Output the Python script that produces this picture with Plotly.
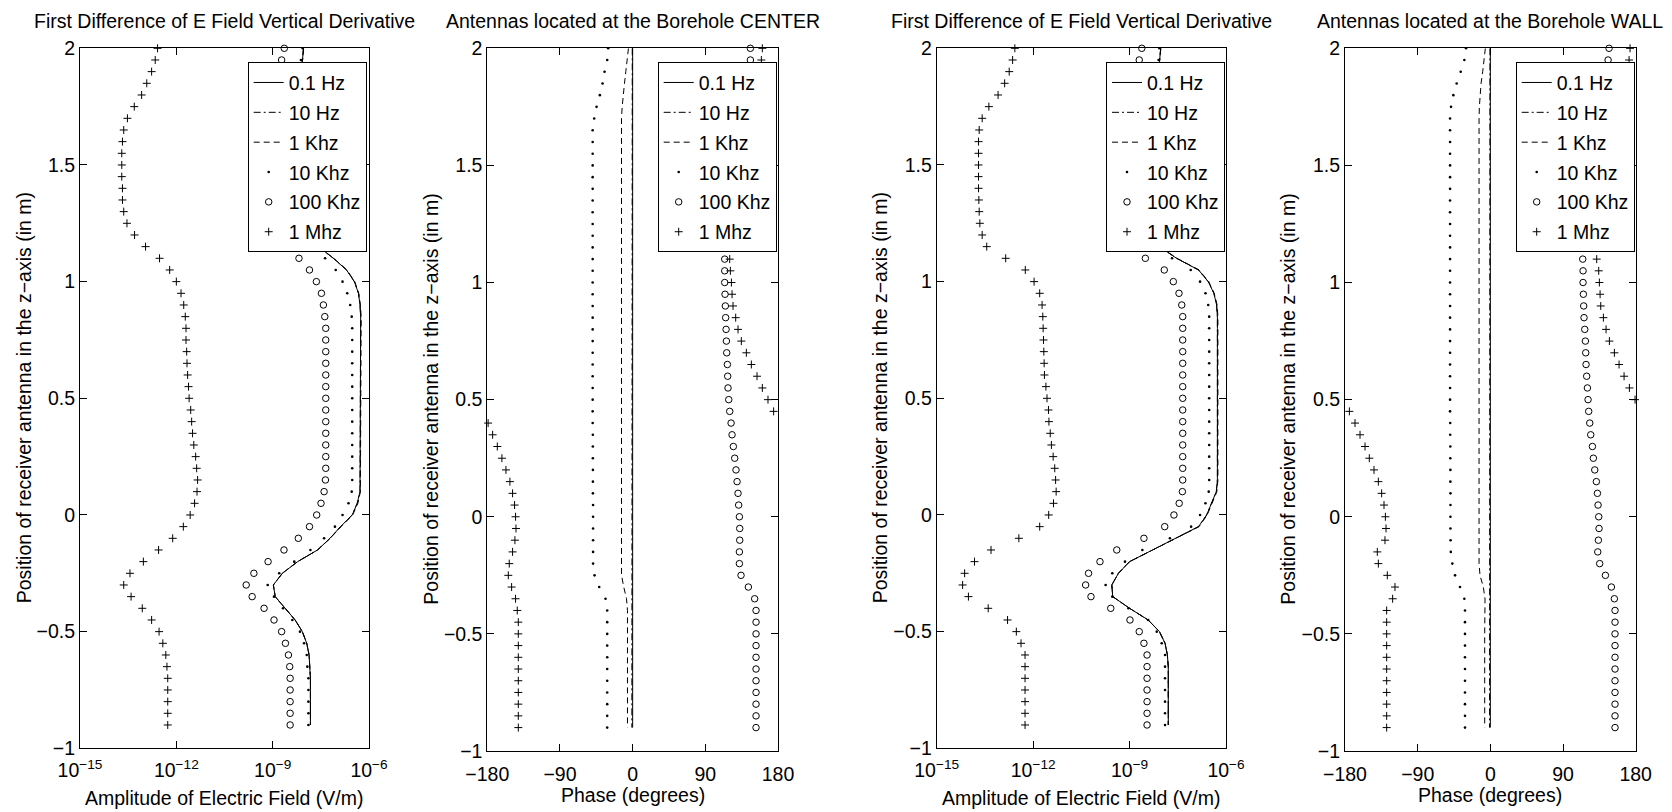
import plotly.graph_objects as go

# ---------------- data ----------------
z = [2.0, 1.95, 1.9, 1.85, 1.8, 1.75, 1.7, 1.65, 1.6, 1.55, 1.5, 1.45, 1.4, 1.35, 1.3,
     1.25, 1.2, 1.15, 1.1, 1.05, 1.0, 0.95, 0.9, 0.85, 0.8, 0.75, 0.7, 0.65, 0.6, 0.55,
     0.5, 0.45, 0.4, 0.35, 0.3, 0.25, 0.2, 0.15, 0.1, 0.05, 0.0, -0.05, -0.1, -0.15,
     -0.2, -0.25, -0.3, -0.35, -0.4, -0.45, -0.5, -0.55, -0.6, -0.65, -0.7, -0.75,
     -0.8, -0.85, -0.9]

freq_labels = ["0.1 Hz", "10 Hz", "1 Khz", "10 Khz", "100 Khz", "1 Mhz"]

# Panel 1: amplitude, antennas at borehole CENTER (V/m)
amp_c_01hz = [9.1e-9, 8.5e-9, 7e-9, 5.5e-9, 4.5e-9, 4e-9, 3.6e-9, 3.4e-9, 3.3e-9, 3.3e-9,
              3.3e-9, 3.3e-9, 3.3e-9, 3.5e-9, 4e-9, 5.5e-9, 1.0e-8, 2.65e-8, 7.8e-8, 2.0e-7,
              3.5e-7, 4.7e-7, 5.25e-7, 5.5e-7, 5.5e-7, 5.5e-7, 5.5e-7, 5.5e-7, 5.5e-7, 5.5e-7,
              5.5e-7, 5.5e-7, 5.5e-7, 5.5e-7, 5.5e-7, 5.5e-7, 5.5e-7, 5.5e-7, 5.25e-7, 4.3e-7,
              3.0e-7, 1.3e-7, 6.1e-8, 2.5e-8, 6.0e-9, 2.0e-9, 1.05e-9, 1.2e-9, 2.4e-9, 5.0e-9,
              8.4e-9, 1.15e-8, 1.36e-8, 1.46e-8, 1.5e-8, 1.5e-8, 1.5e-8, 1.5e-8, 1.5e-8]
amp_c_10hz = [9.1e-9, 8.5e-9, 7e-9, 5.5e-9, 4.5e-9, 4e-9, 3.6e-9, 3.4e-9, 3.3e-9, 3.3e-9,
              3.3e-9, 3.3e-9, 3.3e-9, 3.5e-9, 4e-9, 5.5e-9, 1.0e-8, 2.65e-8, 7.8e-8, 2.0e-7,
              3.5e-7, 4.7e-7, 5.25e-7, 5.5e-7, 5.5e-7, 5.5e-7, 5.5e-7, 5.5e-7, 5.5e-7, 5.5e-7,
              5.5e-7, 5.5e-7, 5.5e-7, 5.5e-7, 5.5e-7, 5.5e-7, 5.5e-7, 5.5e-7, 5.25e-7, 4.3e-7,
              3.0e-7, 1.3e-7, 6.1e-8, 2.5e-8, 6.0e-9, 2.0e-9, 1.05e-9, 1.2e-9, 2.4e-9, 5.0e-9,
              8.4e-9, 1.15e-8, 1.36e-8, 1.46e-8, 1.5e-8, 1.5e-8, 1.5e-8, 1.5e-8, 1.5e-8]
amp_c_1k = [9.2e-9, 8.6e-9, 7e-9, 5.5e-9, 4.5e-9, 4e-9, 3.6e-9, 3.4e-9, 3.3e-9, 3.3e-9,
            3.3e-9, 3.3e-9, 3.3e-9, 3.5e-9, 4e-9, 5.5e-9, 1.0e-8, 2.7e-8, 8.0e-8, 2.05e-7,
            3.6e-7, 4.8e-7, 5.4e-7, 5.7e-7, 5.7e-7, 5.7e-7, 5.7e-7, 5.7e-7, 5.7e-7, 5.7e-7,
            5.7e-7, 5.7e-7, 5.7e-7, 5.7e-7, 5.7e-7, 5.7e-7, 5.7e-7, 5.7e-7, 5.4e-7, 4.5e-7,
            3.1e-7, 1.35e-7, 6.2e-8, 2.5e-8, 6.0e-9, 2.0e-9, 1.05e-9, 1.2e-9, 2.4e-9, 5.0e-9,
            8.4e-9, 1.15e-8, 1.36e-8, 1.46e-8, 1.5e-8, 1.5e-8, 1.5e-8, 1.5e-8, 1.5e-8]
amp_c_10k = [8.6e-9, 7.6e-9, 6.5e-9, 5e-9, 4e-9, 3.4e-9, 3e-9, 2.8e-9, 2.7e-9, 2.7e-9,
             2.7e-9, 2.7e-9, 2.7e-9, 2.9e-9, 3.3e-9, 4.5e-9, 8e-9, 1.8e-8, 4.3e-8, 9.2e-8,
             1.5e-7, 2.1e-7, 2.6e-7, 2.9e-7, 3.0e-7, 3.0e-7, 3.0e-7, 3.0e-7, 3.0e-7, 3.0e-7,
             3.0e-7, 3.0e-7, 3.0e-7, 3.0e-7, 3.0e-7, 3.0e-7, 3.0e-7, 3.0e-7, 2.9e-7, 2.3e-7,
             1.5e-7, 8.7e-8, 4.0e-8, 1.5e-8, 4.7e-9, 1.6e-9, 7.0e-10, 1.1e-9, 2.1e-9, 4.1e-9,
             7.1e-9, 9.5e-9, 1.15e-8, 1.2e-8, 1.3e-8, 1.3e-8, 1.3e-8, 1.3e-8, 1.3e-8]
amp_c_100k = [2.3e-9, 1.9e-9, 1.7e-9, 1.4e-9, 1.1e-9, 9e-10, 8e-10, 7.5e-10, 7e-10, 7e-10,
              7e-10, 7e-10, 7.5e-10, 8e-10, 1e-9, 1.3e-9, 1.8e-9, 2.6e-9, 6.6e-9, 1.4e-8,
              2.3e-8, 3.3e-8, 3.8e-8, 4.2e-8, 4.5e-8, 4.5e-8, 4.5e-8, 4.5e-8, 4.5e-8, 4.5e-8,
              4.5e-8, 4.5e-8, 4.5e-8, 4.5e-8, 4.5e-8, 4.5e-8, 4.5e-8, 4.4e-8, 4.0e-8, 3.2e-8,
              2.35e-8, 1.4e-8, 6.3e-9, 2.25e-9, 7.2e-10, 2.6e-10, 1.5e-10, 2.3e-10, 5.4e-10, 1.1e-9,
              1.9e-9, 2.5e-9, 3.1e-9, 3.4e-9, 3.5e-9, 3.5e-9, 3.5e-9, 3.5e-9, 3.5e-9]
amp_c_1m = [2.6e-13, 2.2e-13, 1.7e-13, 1.2e-13, 8.3e-14, 4.9e-14, 3.0e-14, 2.3e-14, 2.1e-14, 2.0e-14,
            2.0e-14, 2.0e-14, 2.1e-14, 2.1e-14, 2.3e-14, 2.9e-14, 5.0e-14, 1.1e-13, 3.0e-13, 6.2e-13,
            1.0e-12, 1.4e-12, 1.7e-12, 1.9e-12, 2.0e-12, 2.0e-12, 2.1e-12, 2.15e-12, 2.25e-12, 2.4e-12,
            2.5e-12, 2.8e-12, 3.0e-12, 3.2e-12, 3.5e-12, 4.0e-12, 4.3e-12, 4.6e-12, 4.4e-12, 3.7e-12,
            2.7e-12, 1.65e-12, 7.7e-13, 2.8e-13, 9.4e-14, 3.6e-14, 2.3e-14, 3.9e-14, 8.7e-14, 1.7e-13,
            2.9e-13, 3.8e-13, 4.7e-13, 5.1e-13, 5.4e-13, 5.4e-13, 5.4e-13, 5.4e-13, 5.4e-13]

# Panel 2: phase, antennas at borehole CENTER (degrees)
ph_c_01hz = [0.0, 0.0, 0.0, 0.0, 0.0, 0.0, 0.0, 0.0, 0.0, 0.0, 0.0, 0.0, 0.0, 0.0, 0.0,
             0.0, 0.0, 0.0, 0.0, 0.0, 0.0, 0.0, 0.0, 0.0, 0.0, 0.0, 0.0, 0.0, 0.0, 0.0,
             0.0, 0.0, 0.0, 0.0, 0.0, 0.0, 0.0, 0.0, 0.0, 0.0, 0.0, 0.0, 0.0, 0.0, 0.0,
             0.0, 0.0, 0.0, 0.0, 0.0, 0.0, 0.0, 0.0, 0.0, 0.0, 0.0, 0.0, 0.0, 0.0]
ph_c_10hz = [-0.5, -0.5, -0.5, -0.5, -0.5, -0.5, -0.5, -0.5, -0.5, -0.5, -0.5, -0.5, -0.5, -0.5, -0.5,
             -0.5, -0.5, -0.5, -0.5, -0.5, -0.5, -0.5, -0.5, -0.5, -0.5, -0.5, -0.5, -0.5, -0.5, -0.5,
             -0.5, -0.5, -0.5, -0.5, -0.5, -0.5, -0.5, -0.5, -0.5, -0.5, -0.5, -0.5, -0.5, -0.5, -0.5,
             -0.5, -0.6, -0.8, -1.0, -1.0, -1.0, -1.0, -1.0, -1.0, -1.0, -1.0, -1.0, -1.0, -1.0]
ph_c_1k = [-5.2, -6.4, -8.5, -10.1, -11.8, -13.0, -13.8, -13.8, -13.8, -13.8, -13.8, -13.8, -13.8,
           -13.8, -13.8, -13.8, -13.8, -13.8, -13.8, -13.8, -13.8, -13.8, -13.8, -13.8, -13.8, -13.8,
           -13.8, -13.8, -13.8, -13.8, -13.8, -13.8, -13.8, -13.8, -13.8, -13.8, -13.8, -13.8, -13.8,
           -13.8, -13.8, -13.8, -13.8, -13.8, -13.8, -13.8, -11.0, -7.6, -6.4, -6.4, -6.4, -6.4,
           -6.4, -6.4, -6.4, -6.4, -6.4, -6.4, -6.4]
ph_c_10k = [-30.3, -31.5, -34.8, -37.3, -40.6, -44.7, -47.6, -49.5, -49.5, -49.5, -49.5, -49.5,
            -49.5, -49.5, -49.5, -49.5, -49.5, -49.5, -49.5, -49.5, -49.5, -49.5, -49.5, -49.5,
            -49.5, -49.5, -49.5, -49.5, -49.5, -49.5, -49.5, -49.5, -49.5, -49.3, -49.3, -49.3,
            -49.2, -49.2, -49.2, -49.0, -49.0, -49.0, -49.0, -49.0, -49.0, -47.2, -41.4, -33.6,
            -31.5, -31.5, -31.5, -31.5, -31.5, -31.5, -31.5, -31.5, -31.5, -31.5, -31.5]
ph_c_100k = [145.8, 145.8, 140.0, 134.0, 129.0, 125.0, 121.0, 118.0, 116.0, 115.0, 114.0, 113.8,
             113.8, 113.8, 113.8, 113.8, 113.8, 114.0, 114.0, 114.0, 114.0, 114.4, 114.8, 115.2,
             115.7, 116.1, 116.5, 117.3, 117.7, 118.1, 119.0, 120.2, 121.9, 123.1, 124.7, 126.4,
             128.0, 129.3, 130.5, 131.3, 132.2, 132.6, 132.6, 132.2, 132.2, 134.2, 143.3, 151.1,
             152.8, 152.8, 152.8, 152.8, 152.8, 152.8, 152.8, 152.8, 152.8, 152.8, 152.8]
ph_c_1m = [160.6, 159.4, 156.0, 150.0, 144.0, 138.0, 133.0, 129.0, 126.0, 124.0, 122.0, 121.0,
           120.0, 119.5, 119.0, 118.5, 118.2, 118.1, 120.2, 121.0, 122.3, 123.1, 124.3, 127.6,
           130.5, 134.6, 140.8, 147.0, 154.0, 160.6, 167.6, 174.6, -179.0, -173.4, -167.6, -161.9,
           -156.9, -152.0, -148.7, -146.2, -145.0, -144.5, -145.8, -148.7, -152.8, -154.0, -149.9,
           -145.0, -142.9, -141.6, -141.6, -141.6, -141.6, -141.6, -141.6, -141.6, -141.6, -141.6,
           -141.6]

# Panel 3: amplitude, antennas at borehole WALL (V/m)
amp_w_01hz = [9.3e-9, 8.8e-9, 8e-9, 7e-9, 6e-9, 5.5e-9, 5e-9, 5e-9, 5e-9, 5e-9,
              5e-9, 5e-9, 5e-9, 5e-9, 5.5e-9, 6e-9, 7e-9, 8.5e-9, 2.9e-8, 1.4e-7,
              2.8e-7, 4.2e-7, 5.1e-7, 5.4e-7, 5.4e-7, 5.4e-7, 5.4e-7, 5.4e-7, 5.4e-7, 5.4e-7,
              5.4e-7, 5.4e-7, 5.4e-7, 5.4e-7, 5.4e-7, 5.4e-7, 5.4e-7, 5.4e-7, 5.0e-7, 3.6e-7,
              2.5e-7, 1.4e-7, 2.6e-8, 4.9e-9, 1.0e-9, 4.5e-10, 2.8e-10, 3.0e-10, 1.0e-9, 3.8e-9,
              8.5e-9, 1.27e-8, 1.5e-8, 1.6e-8, 1.6e-8, 1.6e-8, 1.6e-8, 1.6e-8, 1.6e-8]
amp_w_10hz = [9.3e-9, 8.8e-9, 8e-9, 7e-9, 6e-9, 5.5e-9, 5e-9, 5e-9, 5e-9, 5e-9,
              5e-9, 5e-9, 5e-9, 5e-9, 5.5e-9, 6e-9, 7e-9, 8.5e-9, 2.9e-8, 1.4e-7,
              2.8e-7, 4.2e-7, 5.1e-7, 5.4e-7, 5.4e-7, 5.4e-7, 5.4e-7, 5.4e-7, 5.4e-7, 5.4e-7,
              5.4e-7, 5.4e-7, 5.4e-7, 5.4e-7, 5.4e-7, 5.4e-7, 5.4e-7, 5.4e-7, 5.0e-7, 3.6e-7,
              2.5e-7, 1.4e-7, 2.6e-8, 4.9e-9, 1.0e-9, 4.5e-10, 2.8e-10, 3.0e-10, 1.0e-9, 3.8e-9,
              8.5e-9, 1.27e-8, 1.5e-8, 1.6e-8, 1.6e-8, 1.6e-8, 1.6e-8, 1.6e-8, 1.6e-8]
amp_w_1k = [9.4e-9, 8.9e-9, 8e-9, 7e-9, 6e-9, 5.5e-9, 5e-9, 5e-9, 5e-9, 5e-9,
            5e-9, 5e-9, 5e-9, 5e-9, 5.5e-9, 6e-9, 7e-9, 8.6e-9, 3.0e-8, 1.45e-7,
            2.9e-7, 4.3e-7, 5.3e-7, 5.6e-7, 5.6e-7, 5.6e-7, 5.6e-7, 5.6e-7, 5.6e-7, 5.6e-7,
            5.6e-7, 5.6e-7, 5.6e-7, 5.6e-7, 5.6e-7, 5.6e-7, 5.6e-7, 5.6e-7, 5.2e-7, 3.7e-7,
            2.6e-7, 1.45e-7, 2.7e-8, 5.0e-9, 1.0e-9, 4.5e-10, 2.8e-10, 3.0e-10, 1.0e-9, 3.8e-9,
            8.5e-9, 1.27e-8, 1.5e-8, 1.6e-8, 1.6e-8, 1.6e-8, 1.6e-8, 1.6e-8, 1.6e-8]
amp_w_10k = [8.5e-9, 8e-9, 7e-9, 6e-9, 4.5e-9, 4.5e-9, 4.5e-9, 4.5e-9, 4.5e-9, 4.5e-9,
             4.5e-9, 4.5e-9, 4.5e-9, 4.5e-9, 4.5e-9, 4.5e-9, 4.8e-9, 5.5e-9, 2.1e-8, 8.0e-8,
             1.56e-7, 2.3e-7, 2.8e-7, 3.0e-7, 3.0e-7, 3.0e-7, 3.0e-7, 3.0e-7, 3.0e-7, 3.0e-7,
             3.0e-7, 3.0e-7, 3.0e-7, 3.0e-7, 3.0e-7, 3.0e-7, 3.0e-7, 3.0e-7, 2.9e-7, 2.3e-7,
             1.56e-7, 8.2e-8, 1.8e-8, 2.5e-9, 7.2e-10, 2.9e-10, 1.8e-10, 2.9e-10, 9.2e-10, 3.8e-9,
             7.0e-9, 1.0e-8, 1.27e-8, 1.27e-8, 1.27e-8, 1.27e-8, 1.27e-8, 1.27e-8, 1.27e-8]
amp_w_100k = [2.4e-9, 2.0e-9, 1.7e-9, 1.3e-9, 1.0e-9, 7e-10, 6e-10, 5.5e-10, 5e-10, 5e-10,
              5e-10, 5e-10, 5e-10, 5.2e-10, 5.5e-10, 6e-10, 7e-10, 8.1e-10, 3.1e-9, 1.2e-8,
              2.3e-8, 3.45e-8, 4.2e-8, 4.5e-8, 4.5e-8, 4.5e-8, 4.5e-8, 4.5e-8, 4.5e-8, 4.5e-8,
              4.5e-8, 4.5e-8, 4.5e-8, 4.5e-8, 4.5e-8, 4.5e-8, 4.5e-8, 4.5e-8, 4.4e-8, 3.5e-8,
              2.4e-8, 1.24e-8, 2.8e-9, 4.0e-10, 1.2e-10, 5.3e-11, 4.3e-11, 6.3e-11, 2.6e-10, 1.03e-9,
              2.0e-9, 2.8e-9, 3.5e-9, 3.5e-9, 3.5e-9, 3.5e-9, 3.5e-9, 3.5e-9, 3.5e-9]
amp_w_1m = [2.7e-13, 2.3e-13, 1.8e-13, 1.3e-13, 8.1e-14, 4.2e-14, 2.6e-14, 2.1e-14, 2.0e-14, 2.0e-14,
            2.0e-14, 2.0e-14, 2.0e-14, 2.05e-14, 2.1e-14, 2.2e-14, 2.6e-14, 3.6e-14, 1.4e-13, 5.7e-13,
            1.07e-12, 1.6e-12, 1.9e-12, 2.0e-12, 2.05e-12, 2.1e-12, 2.15e-12, 2.2e-12, 2.25e-12, 2.5e-12,
            2.7e-12, 3.0e-12, 3.1e-12, 3.4e-12, 3.7e-12, 4.2e-12, 4.7e-12, 5.0e-12, 5.2e-12, 4.3e-12,
            3.05e-12, 1.6e-12, 3.6e-13, 4.9e-14, 1.5e-14, 7.4e-15, 6.4e-15, 9.7e-15, 4.0e-14, 1.6e-13,
            3.0e-13, 4.2e-13, 5.6e-13, 5.6e-13, 5.6e-13, 5.6e-13, 5.6e-13, 5.6e-13, 5.6e-13]

# Panel 4: phase, antennas at borehole WALL (degrees)
ph_w_01hz = [0.0, 0.0, 0.0, 0.0, 0.0, 0.0, 0.0, 0.0, 0.0, 0.0, 0.0, 0.0, 0.0, 0.0, 0.0,
             0.0, 0.0, 0.0, 0.0, 0.0, 0.0, 0.0, 0.0, 0.0, 0.0, 0.0, 0.0, 0.0, 0.0, 0.0,
             0.0, 0.0, 0.0, 0.0, 0.0, 0.0, 0.0, 0.0, 0.0, 0.0, 0.0, 0.0, 0.0, 0.0, 0.0,
             0.0, 0.0, 0.0, 0.0, 0.0, 0.0, 0.0, 0.0, 0.0, 0.0, 0.0, 0.0, 0.0, 0.0]
ph_w_10hz = [-0.5, -0.5, -0.5, -0.5, -0.5, -0.5, -0.5, -0.5, -0.5, -0.5, -0.5, -0.5, -0.5, -0.5, -0.5,
             -0.5, -0.5, -0.5, -0.5, -0.5, -0.5, -0.5, -0.5, -0.5, -0.5, -0.5, -0.5, -0.5, -0.5, -0.5,
             -0.5, -0.5, -0.5, -0.5, -0.5, -0.5, -0.5, -0.5, -0.5, -0.5, -0.5, -0.5, -0.5, -0.5, -0.5,
             -0.5, -0.6, -0.8, -1.0, -1.0, -1.0, -1.0, -1.0, -1.0, -1.0, -1.0, -1.0, -1.0, -1.0]
ph_w_1k = [-6.2, -7.4, -9.5, -11.5, -12.8, -13.6, -14.0, -14.0, -14.0, -14.0, -14.0, -14.0, -14.0,
           -14.0, -14.0, -14.0, -14.0, -14.0, -14.0, -14.0, -14.0, -14.0, -14.0, -14.0, -14.0, -14.0,
           -14.0, -14.0, -14.0, -14.0, -14.0, -14.0, -14.0, -14.0, -14.0, -14.0, -14.0, -14.0, -14.0,
           -14.0, -14.0, -14.0, -14.0, -14.0, -14.0, -12.8, -8.7, -6.6, -7.0, -7.0, -7.0, -7.0,
           -7.0, -7.0, -7.0, -7.0, -7.0, -7.0, -7.0]
ph_w_10k = [-30.1, -32.2, -36.7, -41.7, -45.8, -48.7, -49.9, -49.9, -49.9, -49.9, -49.9, -49.9,
            -49.9, -49.9, -49.9, -49.9, -49.9, -49.9, -49.9, -49.9, -49.9, -49.9, -49.9, -49.9,
            -49.9, -49.9, -49.9, -49.9, -49.9, -49.9, -49.9, -49.9, -49.7, -49.7, -49.6, -49.6,
            -49.5, -49.5, -49.4, -49.4, -49.4, -49.4, -49.2, -49.0, -47.1, -43.7, -37.6, -32.2,
            -31.4, -31.4, -31.4, -31.4, -31.4, -31.4, -31.4, -31.4, -31.4, -31.4, -31.4]
ph_w_100k = [147.0, 145.8, 142.0, 136.0, 130.0, 125.0, 121.0, 118.0, 116.5, 115.5, 115.0, 114.5,
             114.5, 114.5, 114.5, 114.5, 114.5, 114.4, 114.4, 114.8, 114.8, 115.2, 115.6, 116.0,
             116.9, 117.7, 118.1, 118.5, 119.3, 120.2, 121.0, 121.8, 123.1, 124.3, 126.4, 127.6,
             129.3, 131.3, 132.6, 133.4, 134.2, 134.6, 133.8, 133.0, 135.4, 142.5, 149.9, 153.6,
             154.4, 154.4, 154.4, 154.4, 154.4, 154.4, 154.4, 154.4, 154.4, 154.4, 154.4]
ph_w_1m = [173.0, 171.8, 168.0, 162.0, 155.0, 148.0, 142.0, 138.0, 135.0, 133.0, 131.5, 131.0,
           130.5, 130.0, 130.0, 129.8, 129.7, 129.7, 131.7, 134.2, 135.0, 135.9, 136.7, 140.0,
           143.3, 147.4, 153.6, 159.4, 165.6, 172.2, 179.2, -174.6, -167.6, -161.4, -155.2, -149.9,
           -144.1, -138.7, -134.6, -131.7, -130.0, -129.2, -130.5, -140.0, -138.7, -127.6, -118.1,
           -121.0, -128.4, -128.4, -128.4, -128.4, -128.4, -128.4, -128.4, -128.4, -128.4, -128.4,
           -128.4]

panel_titles = ["First Difference of E Field Vertical Derivative",
                "Antennas located at the Borehole CENTER",
                "First Difference of E Field Vertical Derivative",
                "Antennas located at the Borehole WALL"]
amp_xlabel = "Amplitude of Electric Field (V/m)"
phase_xlabel = "Phase (degrees)"
ylabel = "Position of receiver antenna in the z\u2212axis (in m)"

amp_tickvals = [1e-15, 1e-12, 1e-9, 1e-6]
amp_ticktext = ["10<sup>\u221215</sup>", "10<sup>\u221212</sup>", "10<sup>\u22129</sup>", "10<sup>\u22126</sup>"]
phase_tickvals = [-180, -90, 0, 90, 180]
phase_ticktext = ["\u2212180", "\u221290", "0", "90", "180"]
z_tickvals = [-1, -0.5, 0, 0.5, 1, 1.5, 2]
z_ticktext = ["\u22121", "\u22120.5", "0", "0.5", "1", "1.5", "2"]

# ---------------- figure ----------------
W, H = 1672, 812
FONT = "Liberation Sans, Arial, Helvetica, sans-serif"
FS = 19.5

panels = [
    [amp_c_01hz, amp_c_10hz, amp_c_1k, amp_c_10k, amp_c_100k, amp_c_1m],
    [ph_c_01hz, ph_c_10hz, ph_c_1k, ph_c_10k, ph_c_100k, ph_c_1m],
    [amp_w_01hz, amp_w_10hz, amp_w_1k, amp_w_10k, amp_w_100k, amp_w_1m],
    [ph_w_01hz, ph_w_10hz, ph_w_1k, ph_w_10k, ph_w_100k, ph_w_1m],
]
# pixel boxes of the four axes (left, right, top, bottom)
boxes = [(80, 369, 48.3, 748.3), (487.3, 778, 48.3, 751),
         (936.7, 1226, 48.3, 748.3), (1345, 1635.7, 48.3, 751)]
legend_pos = [(247.7, 62.3), (657.7, 62.3), (1106, 62.3), (1515.7, 62.3)]
ytitle_x = [24, 431, 880, 1288]

styles = [
    dict(mode="lines", line=dict(color="black", width=1, dash="solid")),
    dict(mode="lines", line=dict(color="black", width=1, dash="7px,3px,2px,3px")),
    dict(mode="lines", line=dict(color="black", width=1, dash="6px,4px")),
    dict(mode="markers", marker=dict(symbol="circle", size=2.6, color="black")),
    dict(mode="markers", marker=dict(symbol="circle-open", size=6.5, color="black", line=dict(width=1, color="black"))),
    dict(mode="markers", marker=dict(symbol="cross-thin", size=5.7, color="black", line=dict(width=1, color="black"))),
]

fig = go.Figure()
layout = dict(width=W, height=H, margin=dict(l=0, r=0, t=0, b=0, pad=0, autoexpand=False),
              autosize=False,
              paper_bgcolor="white", plot_bgcolor="white",
              font=dict(family=FONT, size=FS, color="black"), annotations=[])

for p in range(4):
    xa = "x" if p == 0 else f"x{p+1}"
    ya = "y" if p == 0 else f"y{p+1}"
    lg = "legend" if p == 0 else f"legend{p+1}"
    for k in range(6):
        fig.add_trace(go.Scatter(x=panels[p][k], y=z, name=freq_labels[k], xaxis=xa, yaxis=ya,
                                 legend=lg, legendgroup=f"p{p}k{k}", cliponaxis=False,
                                 showlegend=True, **styles[k]))
    l, r, t, b = boxes[p]
    is_amp = (p % 2 == 0)
    xaxis = dict(domain=[l / W, r / W], anchor=ya, showgrid=False, zeroline=False,
                 showline=True, linecolor="black", linewidth=1, mirror="ticks",
                 ticks="inside", ticklen=7, tickwidth=1, tickcolor="black", automargin=False,
                 tickfont=dict(family=FONT, size=FS, color="black"))
    if is_amp:
        xaxis.update(type="log", range=[-15, -6], tickvals=amp_tickvals, ticktext=amp_ticktext,
                     ticklabelstandoff=4)
    else:
        xaxis.update(range=[-180, 180], tickvals=phase_tickvals, ticktext=phase_ticktext,
                     ticklabelstandoff=6)
    yaxis = dict(domain=[1 - b / H, 1 - t / H], anchor=xa, range=[-1, 2], showgrid=False,
                 zeroline=False, showline=True, linecolor="black", linewidth=1, mirror="ticks",
                 ticks="inside", ticklen=7, tickwidth=1, tickcolor="black", automargin=False,
                 tickvals=z_tickvals, ticktext=z_ticktext,
                 tickfont=dict(family=FONT, size=FS, color="black"))
    layout["xaxis" if p == 0 else f"xaxis{p+1}"] = xaxis
    layout["yaxis" if p == 0 else f"yaxis{p+1}"] = yaxis
    lx, ly = legend_pos[p]
    layout[lg] = dict(x=lx / W, y=1 - ly / H, xanchor="left", yanchor="top", xref="paper",
                      yref="paper", bgcolor="white", bordercolor="black", borderwidth=1,
                      font=dict(family=FONT, size=FS, color="black"), itemwidth=30,
                      tracegroupgap=1.5)
    cx = (l + r) / 2
    layout["annotations"].append(dict(text=panel_titles[p], x=cx / W, y=1 - 21 / H, xref="paper",
                                      yref="paper", showarrow=False, xanchor="center",
                                      yanchor="middle", font=dict(family=FONT, size=FS)))
    layout["annotations"].append(dict(text=amp_xlabel if is_amp else phase_xlabel, x=cx / W,
                                      y=1 - (798 if is_amp else 795) / H, xref="paper",
                                      yref="paper", showarrow=False, xanchor="center",
                                      yanchor="middle", font=dict(family=FONT, size=FS)))
    layout["annotations"].append(dict(text=ylabel, x=ytitle_x[p] / W, y=1 - ((t + b) / 2) / H,
                                      xref="paper", yref="paper", showarrow=False, textangle=-90,
                                      xanchor="center", yanchor="middle",
                                      font=dict(family=FONT, size=FS)))

fig.update_layout(**layout)
fig.write_html("out.html")
